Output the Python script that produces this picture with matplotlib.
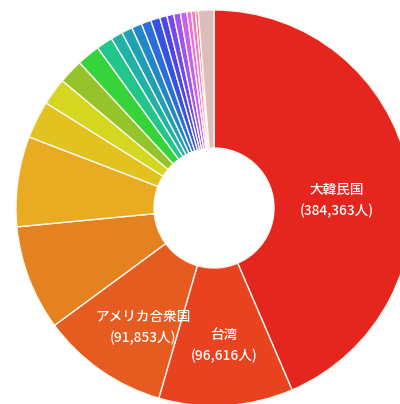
import matplotlib.pyplot as plt

plt.rcParams['font.family'] = ['Noto Sans CJK JP', 'DejaVu Sans']

# visitors by country / region (only the three largest are labelled)
categories = ['大韓民国', '台湾', 'アメリカ合衆国', '国4', '国5', '国6', '国7', '国8',
              '国9', '国10', '国11', '国12', '国13', '国14', '国15', '国16', '国17',
              '国18', '国19', '国20', '国21', '国22', 'その他']
visitors = [384363, 96616, 91853, 75700, 64950, 26960, 19610, 17650,
            16670, 11760, 8580, 7840, 7350, 7110, 6620, 5150, 4900,
            4880, 4660, 3190, 2940, 1960, 11270]
colors = ['#e5261f', '#e8421f', '#e65c20', '#e3821e', '#e8ab22', '#e2c21f',
          '#d4d61f', '#95c42a', '#35d43b', '#22c58a', '#20b2a6', '#1fa0b4',
          '#2088c8', '#2a6ddc', '#3552e6', '#4a45ec', '#6f4af0', '#9a55f2',
          '#c95ef2', '#ee6ae6', '#f475c4', '#f0707f', '#dcbcbc']
labelled = ['大韓民国', '台湾', 'アメリカ合衆国']

fig = plt.figure(figsize=(4, 4.04), dpi=100, facecolor='white')
ax = fig.add_axes([0, 0, 1, 1])

R = 198
wedges, _ = ax.pie(visitors, colors=colors, center=(214, 196), radius=R,
                   startangle=90, counterclock=False,
                   wedgeprops=dict(width=R - 60, edgecolor='#fbf7ee', linewidth=1.0))
ax.set_xlim(0, 400)
ax.set_ylim(0, 404)
ax.set_aspect('auto')
ax.axis('off')

# label spots (picked by eye, the big wedge's label sits off its middle)
label_pos = {'大韓民国': (337, 204), '台湾': (224, 59), 'アメリカ合衆国': (143, 77)}

for name, val in zip(categories, visitors):
    if name not in labelled:
        continue
    x, y = label_pos[name]
    ax.text(x, y + 10, name, ha='center', va='center', color='white',
            fontsize=9.8, fontweight='medium')
    ax.text(x, y - 11, f'({val:,}人)', ha='center', va='center', color='white',
            fontsize=9.8, fontweight='medium')

fig.savefig('out.png', dpi=100)
